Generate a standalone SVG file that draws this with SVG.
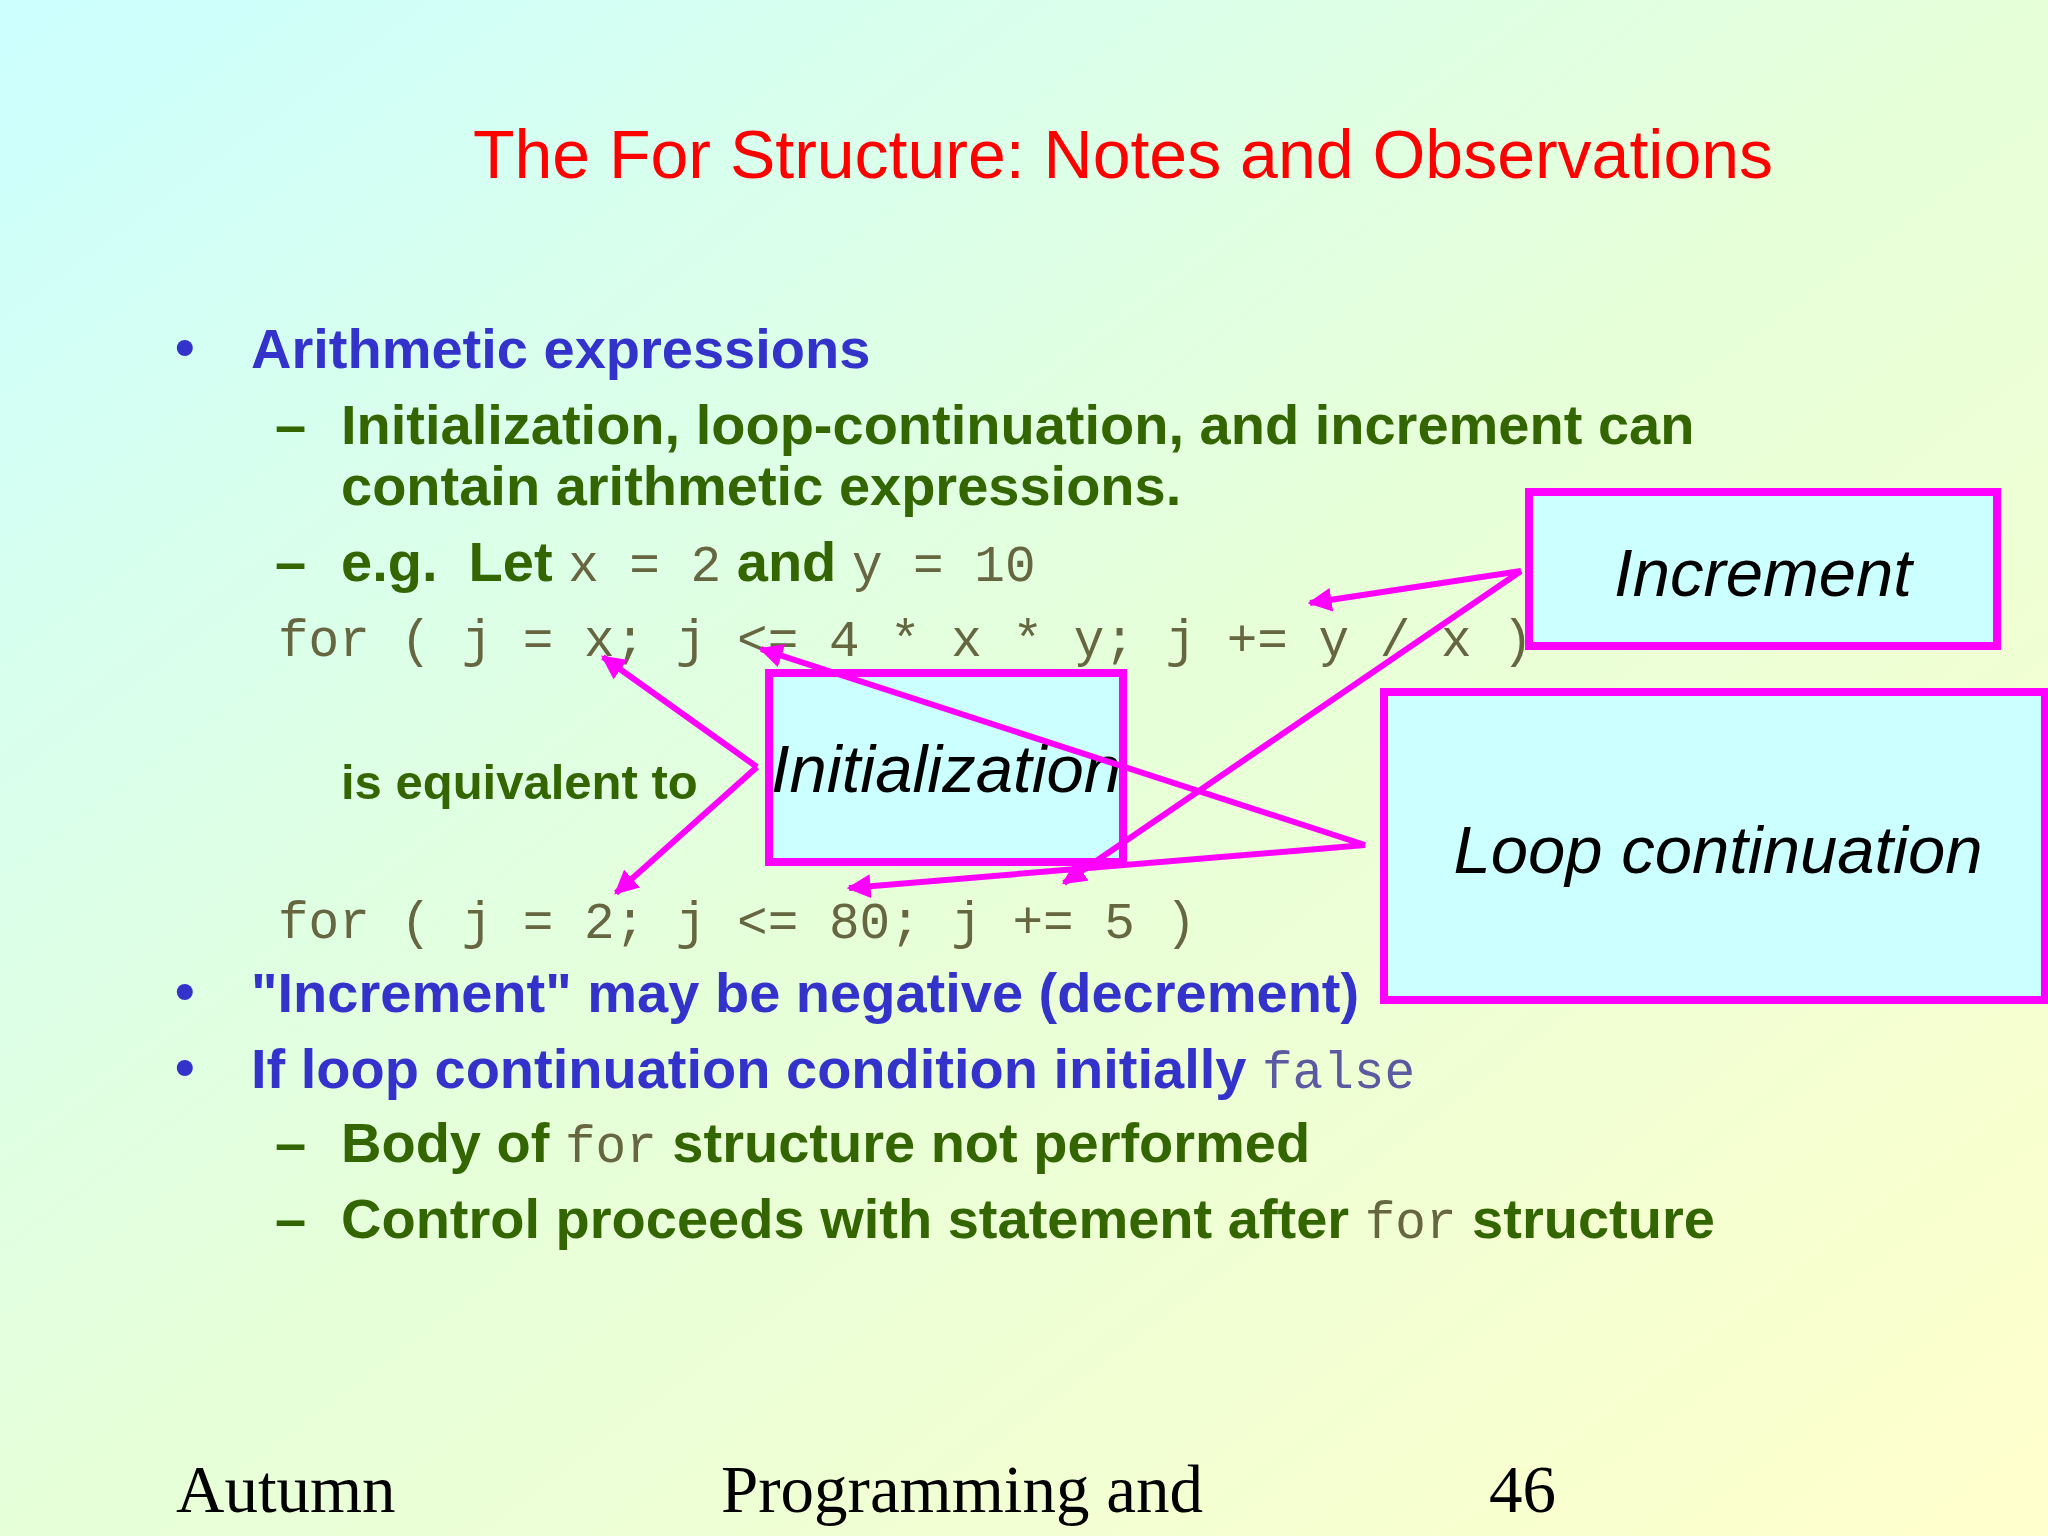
<svg xmlns="http://www.w3.org/2000/svg" width="2048" height="1536" viewBox="0 0 2048 1536">
<defs>
<linearGradient id="bg" x1="0" y1="0" x2="1" y2="1">
<stop offset="0" stop-color="#ccffff"/><stop offset="0.5" stop-color="#e6ffd9"/><stop offset="1" stop-color="#ffffcc"/>
</linearGradient>
<marker id="ah" viewBox="0 0 10 10" refX="9" refY="5" markerWidth="4" markerHeight="4" orient="auto"><path d="M0,0L10,5L0,10z" fill="#ff00ff"/></marker>
<style>
.b{font-family:"Liberation Sans",Arial,sans-serif;font-weight:bold;font-size:56px}
.blue{fill:#3333cc}.grn{fill:#336600}
.code{font-family:"Liberation Mono","Courier New",monospace;font-size:51px;fill:#666640}
.box{fill:#ccffff;stroke:#ff00ff;stroke-width:8}
.lbl{font-family:"Liberation Sans",Arial,sans-serif;font-style:italic;font-size:67px;fill:#000}
.ft{font-family:"Liberation Serif","Times New Roman",serif;font-size:67px;fill:#000}
.con{stroke:#ff00ff;stroke-width:6;fill:none;marker-end:url(#ah)}
</style>
</defs>
<rect width="2048" height="1536" fill="url(#bg)"/>
<text x="1123" y="178" text-anchor="middle" font-family="Liberation Sans,Arial,sans-serif" font-size="68" fill="#ff0000">The For Structure: Notes and Observations</text>
<g class="b">
<text x="175" y="366" class="blue">•</text>
<text x="251" y="368" class="blue">Arithmetic expressions</text>
<text x="275" y="444" class="grn">–</text>
<text x="341" y="444" class="grn">Initialization, loop-continuation, and increment can</text>
<text x="341" y="505" class="grn">contain arithmetic expressions.</text>
<text x="275" y="581" class="grn">–</text>
<text x="341" y="581" class="grn" xml:space="preserve">e.g.  Let <tspan class="code" font-weight="normal">x = 2</tspan> and <tspan class="code" font-weight="normal">y = 10</tspan></text>
<text x="341" y="799" class="grn" style="font-size:49px">is equivalent to</text>
<text x="175" y="1010" class="blue">•</text>
<text x="251" y="1012" class="blue">"Increment" may be negative (decrement)</text>
<text x="175" y="1086" class="blue">•</text>
<text x="251" y="1088" class="blue">If loop continuation condition initially <tspan class="code" font-weight="normal" style="fill:#5a5aa0">false</tspan></text>
<text x="275" y="1162" class="grn">–</text>
<text x="341" y="1162" class="grn">Body of <tspan class="code" font-weight="normal">for</tspan> structure not performed</text>
<text x="275" y="1238" class="grn">–</text>
<text x="341" y="1238" class="grn">Control proceeds with statement after <tspan class="code" font-weight="normal">for</tspan> structure</text>
</g>
<text x="278" y="656" class="code">for ( j = x; j &lt;= 4 * x * y; j += y / x )</text>
<text x="278" y="938" class="code">for ( j = 2; j &lt;= 80; j += 5 )</text>
<g id="increment"><rect class="box" x="1529" y="492" width="468" height="154"/><text class="lbl" x="1763" y="596" text-anchor="middle">Increment</text></g>
<g id="initialization"><rect class="box" x="769" y="673" width="354" height="189"/><text class="lbl" x="946" y="792" text-anchor="middle">Initialization</text></g>
<g id="loop"><rect class="box" x="1384" y="692" width="661" height="308"/><text class="lbl" x="1718" y="873" text-anchor="middle">Loop continuation</text></g>
<g id="connectors">
<path class="con" d="M757,767L603,657"/>
<path class="con" d="M757,767L616,893"/>
<path class="con" d="M1521,571L1310,603"/>
<path class="con" d="M1521,571L1064,883"/>
<path class="con" d="M1365,845L761,649"/>
<path class="con" d="M1365,845L849,888"/>
</g>
<text x="176" y="1512" class="ft">Autumn</text>
<text x="721" y="1512" class="ft">Programming and</text>
<text x="1489" y="1512" class="ft">46</text>
</svg>
